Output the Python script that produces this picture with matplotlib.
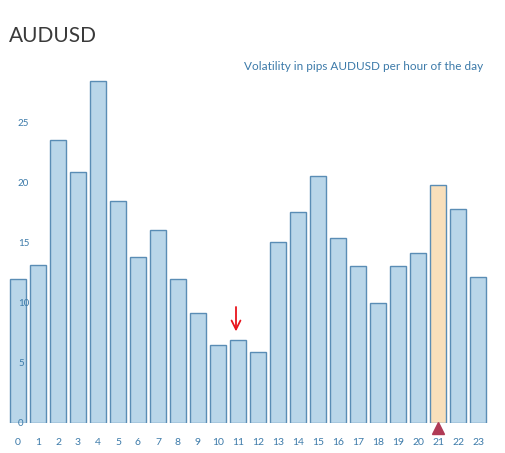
import matplotlib
matplotlib.use("Agg")
import matplotlib.pyplot as plt

hours = list(range(24))
volatility = [12.0, 13.2, 23.6, 20.9, 28.5, 18.5, 13.8, 16.1, 12.0, 9.2, 6.5, 6.9,
              5.9, 15.1, 17.6, 20.6, 15.4, 13.1, 10.0, 13.1, 14.2, 19.8, 17.8, 12.2]
highlight_hour = 21
ytick_values = [0, 5, 10, 15, 20, 25]
title = "AUDUSD"
subtitle = "Volatility in pips AUDUSD per hour of the day"

plt.rcParams['font.family'] = ['Lato', 'DejaVu Sans']

W, H = 506, 453
fig = plt.figure(figsize=(W / 100, H / 100), dpi=100)
ax = fig.add_axes([8 / W, (H - 423) / H, 480 / W, 354 / H])

fills = ['#f8dfbb' if h == highlight_hour else '#b9d6e9' for h in hours]
edges = ['#5a8db5' for h in hours]
ax.bar(hours, volatility, width=0.8, color=fills, edgecolor=edges, linewidth=1.0, zorder=1)

ax.set_xlim(-0.5, 23.5)
ax.set_ylim(0, 29.5)
for s in ax.spines.values():
    s.set_visible(False)

ax.set_xticks(hours)
ax.set_xticklabels([str(h) for h in hours])
ax.tick_params(axis='x', length=0, pad=11, labelsize=7.5, labelcolor='#3c7aa9')

ax.set_yticks(ytick_values)
ax.set_yticklabels([str(v) for v in ytick_values])
ax.tick_params(axis='y', length=0, pad=-7.2, labelsize=7, labelcolor='#3c7aa9')
for lbl in ax.get_yticklabels():
    lbl.set_horizontalalignment('left')

# current hour marker
ax.plot([highlight_hour], [-0.45], marker='^', markersize=8, color='#b03a55',
        clip_on=False, zorder=5, linestyle='none')

# red hand-drawn arrow
ax.annotate('', xy=(10.9, 7.4), xytext=(10.9, 9.9),
            arrowprops=dict(arrowstyle='->', color='#e8141c', lw=1.3,
                            mutation_scale=16), zorder=6)

fig.text(9 / W, 1 - 36 / H, title, fontsize=15, color='#3a3a3a', va='center', ha='left')
fig.text(483 / W, 1 - 66 / H, subtitle, fontsize=8.5, color='#3c7aa9', va='center', ha='right')

fig.savefig('out.png', dpi=100)
